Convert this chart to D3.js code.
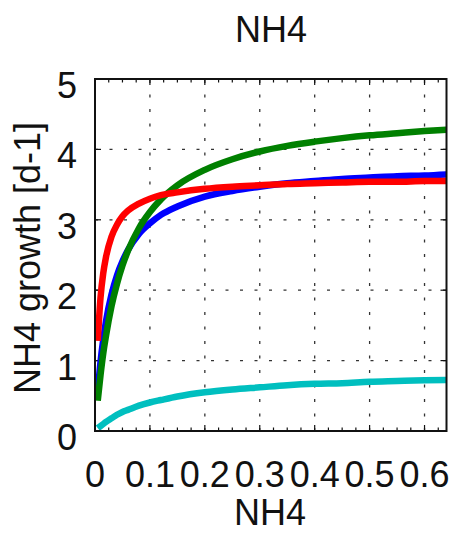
<!DOCTYPE html>
<html>
<head>
<meta charset="utf-8">
<script src="https://cdn.jsdelivr.net/npm/d3@7"></script>
<style>
  html, body { margin: 0; padding: 0; background: #fff; }
  svg text { font-family: "Liberation Sans", Arial, sans-serif; fill: #111; }
</style>
</head>
<body>
<svg id="chart" width="456" height="535"></svg>
<script>
// NH4 concentration sample points
const nh4 = [0.005, 0.01, 0.015, 0.02, 0.03, 0.04, 0.05, 0.06, 0.08, 0.1, 0.12, 0.15,
             0.2, 0.25, 0.3, 0.35, 0.4, 0.45, 0.5, 0.55, 0.6, 0.64];

// growth rate per series [d-1]
const growthBlue  = [0.56, 0.98, 1.30, 1.56, 1.94, 2.21, 2.41, 2.57, 2.80, 2.95, 3.07, 3.19,
                     3.33, 3.41, 3.47, 3.52, 3.55, 3.58, 3.60, 3.62, 3.63, 3.645];
const growthGreen = [0.43, 0.79, 1.10, 1.35, 1.77, 2.09, 2.35, 2.56, 2.88, 3.11, 3.29, 3.49,
                     3.71, 3.86, 3.97, 4.05, 4.11, 4.16, 4.20, 4.23, 4.26, 4.28];
const growthRed   = [1.28, 1.89, 2.24, 2.47, 2.76, 2.93, 3.05, 3.13, 3.23, 3.30, 3.35, 3.39,
                     3.44, 3.47, 3.49, 3.51, 3.52, 3.53, 3.54, 3.54, 3.55, 3.55];
const growthCyan  = [0.04, 0.07, 0.10, 0.13, 0.18, 0.23, 0.27, 0.30, 0.36, 0.405, 0.44, 0.49,
                     0.55, 0.59, 0.62, 0.65, 0.67, 0.68, 0.70, 0.71, 0.72, 0.725];

const xTicks = [0, 0.1, 0.2, 0.3, 0.4, 0.5, 0.6];
const xTickLabels = ["0", "0.1", "0.2", "0.3", "0.4", "0.5", "0.6"];
const yTicks = [0, 1, 2, 3, 4, 5];

const series = [
  { name: "blue",  color: "#0000ff", values: growthBlue },
  { name: "green", color: "#008000", values: growthGreen },
  { name: "red",   color: "#ff0000", values: growthRed },
  { name: "cyan",  color: "#00bfbf", values: growthCyan }
];

const svg = d3.select("#chart");
const plotL = 95, plotR = 446.5, plotT = 79, plotB = 431;

const x = d3.scaleLinear().domain([0, 0.64]).range([plotL, plotR]);
const y = d3.scaleLinear().domain([0, 5]).range([plotB, plotT]);

// dotted grid
const grid = svg.append("g").attr("stroke", "#333").attr("stroke-width", 1.3)
  .attr("stroke-dasharray", "3,11.5");
grid.selectAll("line.gx").data(xTicks.filter(d => d > 0)).join("line")
  .attr("class", "gx")
  .attr("x1", d => x(d)).attr("x2", d => x(d))
  .attr("y1", plotB).attr("y2", plotT);
grid.selectAll("line.gy").data(yTicks.filter(d => d > 0 && d < 5)).join("line")
  .attr("class", "gy")
  .attr("x1", plotL).attr("x2", plotR)
  .attr("y1", d => y(d)).attr("y2", d => y(d));

// minor and major ticks on bottom and top edges, pointing inward
const minor = d3.range(0, 0.64, 0.025);
const isMajor = d => xTicks.some(t => Math.abs(t - d) < 1e-9);
const tickG = svg.append("g").attr("stroke", "#111").attr("stroke-width", 1.2);
tickG.selectAll("line.mb").data(minor).join("line")
  .attr("class", "mb")
  .attr("x1", d => x(d)).attr("x2", d => x(d))
  .attr("y1", plotB).attr("y2", d => plotB - (isMajor(d) ? 6 : 3.5));
tickG.selectAll("line.mt").data(minor).join("line")
  .attr("class", "mt")
  .attr("x1", d => x(d)).attr("x2", d => x(d))
  .attr("y1", plotT).attr("y2", d => plotT + (isMajor(d) ? 6 : 3.5));
tickG.selectAll("line.yl").data(yTicks).join("line")
  .attr("class", "yl")
  .attr("x1", plotL).attr("x2", plotL + 6)
  .attr("y1", d => y(d)).attr("y2", d => y(d));
tickG.selectAll("line.yr").data(yTicks).join("line")
  .attr("class", "yr")
  .attr("x1", plotR).attr("x2", plotR - 6)
  .attr("y1", d => y(d)).attr("y2", d => y(d));

// curves
const line = d3.line().x((d, i) => x(nh4[i])).y(d => y(d)).curve(d3.curveMonotoneX);
svg.append("g").selectAll("path").data(series).join("path")
  .attr("d", s => line(s.values))
  .attr("fill", "none")
  .attr("stroke", s => s.color)
  .attr("stroke-width", 6.5)
  .attr("stroke-linecap", "butt")
  .attr("stroke-linejoin", "round");

// frame
svg.append("rect")
  .attr("x", plotL).attr("y", plotT)
  .attr("width", plotR - plotL).attr("height", plotB - plotT)
  .attr("fill", "none").attr("stroke", "#111").attr("stroke-width", 2);

// axis tick labels
svg.append("g").selectAll("text").data(xTicks).join("text")
  .attr("x", d => x(d)).attr("y", 487)
  .attr("text-anchor", "middle")
  .attr("font-size", 36)
  .text((d, i) => xTickLabels[i]);

svg.append("g").selectAll("text").data(yTicks).join("text")
  .attr("x", 77).attr("y", d => y(d) + 19)
  .attr("text-anchor", "end")
  .attr("font-size", 36)
  .text(d => d);

// titles
svg.append("text").attr("x", 271).attr("y", 42)
  .attr("text-anchor", "middle").attr("font-size", 36).text("NH4");
svg.append("text").attr("x", 270).attr("y", 525)
  .attr("text-anchor", "middle").attr("font-size", 36).text("NH4");
svg.append("text")
  .attr("transform", "translate(40,258) rotate(-90)")
  .attr("text-anchor", "middle").attr("font-size", 36).text("NH4 growth [d-1]");
</script>
</body>
</html>
